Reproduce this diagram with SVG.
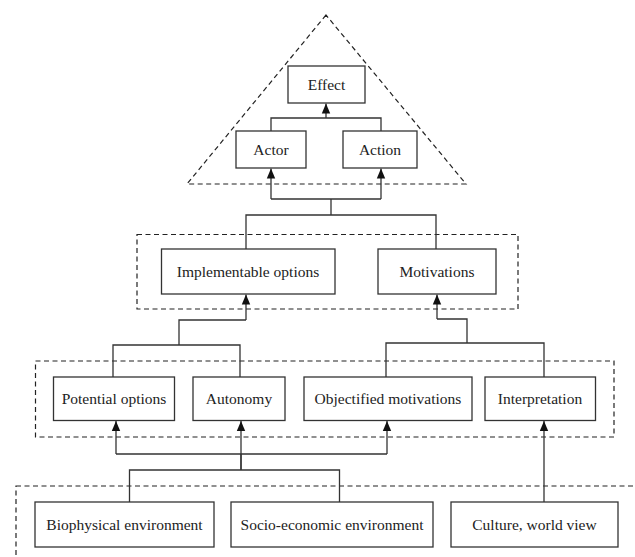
<svg xmlns="http://www.w3.org/2000/svg" width="635" height="557" viewBox="0 0 635 557">
<style>
.box{fill:#fff;stroke:#333;stroke-width:1.3}
.dash{fill:none;stroke:#222;stroke-width:1.2;stroke-dasharray:5,3.5}
.con{fill:none;stroke:#333;stroke-width:1.3}
.arr{fill:none;stroke:#333;stroke-width:1.3;marker-end:url(#ah)}
.t{font-family:'Liberation Serif','DejaVu Serif',serif;font-size:15.5px;fill:#222;text-anchor:middle}
</style>
<defs>
<marker id="ah" viewBox="0 0 10 10" refX="10" refY="5" markerWidth="10" markerHeight="10" markerUnits="userSpaceOnUse" orient="auto">
<path d="M0,0.8 L10,5 L0,9.2 Z" fill="#111"/>
</marker>
</defs>
<g id="groups">
<path class="dash" d="M326,15 L187,184 L466,184 Z"/>
<rect class="dash" x="137" y="234.5" width="381" height="74.5"/>
<rect class="dash" x="35.5" y="361" width="578.5" height="76"/>
<rect class="dash" x="16" y="486" width="640" height="100"/>
</g>
<g id="connectors">
<path class="con" d="M271,131 V118 H381 V131"/>
<path class="arr" d="M326,118 V103.5"/>
<path class="con" d="M271,199 H381 M331,199 V215 M246,249 V215 H436 V249"/>
<path class="arr" d="M271,199 V168.5"/>
<path class="arr" d="M381,199 V168.5"/>
<path class="con" d="M246,320 H179 V345 M113,377 V345 H240 V377"/>
<path class="arr" d="M246,320 V294.5"/>
<path class="con" d="M437,319 H467 V343 M386,377 V343 H544 V377"/>
<path class="arr" d="M437,319 V294.5"/>
<path class="con" d="M116,454 H387 M241,454 V470 M129.5,502 V470 H339.5 V502"/>
<path class="arr" d="M116,454 V421"/>
<path class="arr" d="M241,470 V421"/>
<path class="arr" d="M387,454 V421"/>
<path class="arr" d="M544,502 V421"/>
</g>
<g id="effect"><rect class="box" x="288" y="66" width="77" height="37"/><text class="t" font-family="Liberation Serif, serif" x="326.5" y="89.5">Effect</text></g>
<g id="actor"><rect class="box" x="236" y="131" width="70" height="37"/><text class="t" font-family="Liberation Serif, serif" x="271" y="154.5">Actor</text></g>
<g id="action"><rect class="box" x="343" y="131" width="74" height="37"/><text class="t" font-family="Liberation Serif, serif" x="380" y="154.5">Action</text></g>
<g id="implementable"><rect class="box" x="161.5" y="249" width="173.5" height="45"/><text class="t" font-family="Liberation Serif, serif" x="248" y="276.5">Implementable options</text></g>
<g id="motivations"><rect class="box" x="378" y="249" width="118" height="45"/><text class="t" font-family="Liberation Serif, serif" x="437" y="276.5">Motivations</text></g>
<g id="potential"><rect class="box" x="53.5" y="377" width="121" height="43.5"/><text class="t" font-family="Liberation Serif, serif" x="114" y="403.5">Potential options</text></g>
<g id="autonomy"><rect class="box" x="193" y="377" width="92" height="43.5"/><text class="t" font-family="Liberation Serif, serif" x="239" y="403.5">Autonomy</text></g>
<g id="objectified"><rect class="box" x="304" y="377" width="168" height="43.5"/><text class="t" font-family="Liberation Serif, serif" x="388" y="403.5">Objectified motivations</text></g>
<g id="interpretation"><rect class="box" x="485" y="377" width="110.5" height="43.5"/><text class="t" font-family="Liberation Serif, serif" x="540" y="403.5">Interpretation</text></g>
<g id="biophysical"><rect class="box" x="35" y="502" width="179" height="45"/><text class="t" font-family="Liberation Serif, serif" x="124.5" y="529.5">Biophysical environment</text></g>
<g id="socio"><rect class="box" x="231" y="502" width="202" height="45"/><text class="t" font-family="Liberation Serif, serif" x="332" y="529.5">Socio-economic environment</text></g>
<g id="culture"><rect class="box" x="451" y="502" width="167" height="45"/><text class="t" font-family="Liberation Serif, serif" x="534.5" y="529.5">Culture, world view</text></g>
</svg>
